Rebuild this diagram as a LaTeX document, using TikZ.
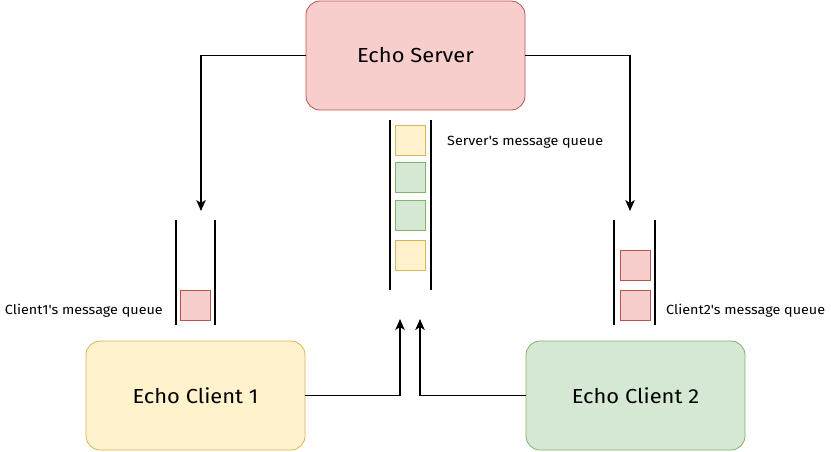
\documentclass[tikz,border=0pt]{standalone}
\usepackage{fontspec}
\setmainfont{Fira Sans}[Ligatures=TeXOff]
\newfontfamily\lblfont{Fira Sans}[Ligatures=TeXOff, FakeStretch=1.08]
\usetikzlibrary{arrows.meta}
\definecolor{redfill}{HTML}{F8CECC}
\definecolor{redline}{HTML}{B85450}
\definecolor{yelfill}{HTML}{FFF2CC}
\definecolor{yelline}{HTML}{D6B656}
\definecolor{grnfill}{HTML}{D5E8D4}
\definecolor{grnline}{HTML}{82B366}
\tikzset{
  bigbox/.style={draw, rounded corners=14pt, minimum width=219pt, minimum height=109pt, line width=0.8pt, font=\lblfont\fontsize{20.3}{24}\selectfont, inner sep=0pt},
  msg/.style={draw, minimum width=30pt, minimum height=30pt, inner sep=0pt, line width=0.8pt},
  redmsg/.style={msg, fill=redfill, draw=redline},
  yelmsg/.style={msg, fill=yelfill, draw=yelline},
  grnmsg/.style={msg, fill=grnfill, draw=grnline},
  wall/.style={line width=1.6pt, black},
  arr/.style={line width=1.4pt, -{Stealth[length=11pt,width=9.5pt,inset=3pt]}},
  lbl/.style={font=\lblfont\fontsize{13.3}{16}\selectfont, inner sep=0pt}
}
\begin{document}
\begin{tikzpicture}[x=1pt,y=-1pt]
\useasboundingbox (0,0) rectangle (831,451);
% boxes
\node[bigbox, fill=redfill, draw=redline] (server) at (415.5,55.5) {Echo Server};
\node[bigbox, fill=yelfill, draw=yelline] (c1) at (195.5,395.5) {Echo Client 1};
\node[bigbox, fill=grnfill, draw=grnline] (c2) at (635.5,395.5) {Echo Client 2};
% server queue
\coordinate (sqL1) at (390,120); \coordinate (sqL2) at (390,290);
\coordinate (sqR1) at (431,120); \coordinate (sqR2) at (431,290);
\draw[wall] (sqL1) -- (sqL2);
\draw[wall] (sqR1) -- (sqR2);
\node[yelmsg] (s1) at (410.5,140) {};
\node[grnmsg] (s2) at (410.5,177.5) {};
\node[grnmsg] (s3) at (410.5,215) {};
\node[yelmsg] (s4) at (410.5,255) {};
\node[lbl, anchor=west] (slbl) at (447,142) {Server's message queue};
% client1 queue
\coordinate (aL1) at (176,220); \coordinate (aL2) at (176,325);
\coordinate (aR1) at (215,220); \coordinate (aR2) at (215,325);
\draw[wall] (aL1) -- (aL2);
\draw[wall] (aR1) -- (aR2);
\node[redmsg] (a1) at (195.5,305) {};
\node[lbl, anchor=east] (albl) at (163,311) {Client1's message queue};
% client2 queue
\coordinate (bL1) at (614,220); \coordinate (bL2) at (614,325);
\coordinate (bR1) at (655,220); \coordinate (bR2) at (655,325);
\draw[wall] (bL1) -- (bL2);
\draw[wall] (bR1) -- (bR2);
\node[redmsg] (b1) at (635,265) {};
\node[redmsg] (b2) at (635,305) {};
\node[lbl, anchor=west] (blbl) at (666,311) {Client2's message queue};
% arrow endpoints
\coordinate (t1) at (201,211);
\coordinate (t2) at (630,211);
\coordinate (t3) at (400,319);
\coordinate (t4) at (420,319);
\draw[arr] (server.west) -| (t1);
\draw[arr] (server.east) -| (t2);
\draw[arr] (c1.east) -| (t3);
\draw[arr] (c2.west) -| (t4);
\end{tikzpicture}
\end{document}
